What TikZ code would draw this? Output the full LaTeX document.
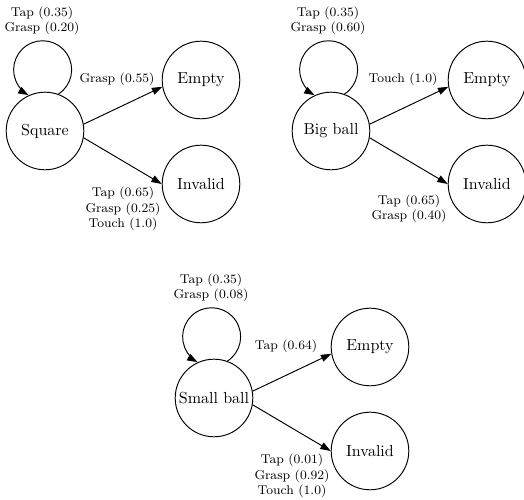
\documentclass[tikz,border=0pt]{standalone}
\usetikzlibrary{arrows.meta}

\begin{document}
\begin{tikzpicture}[x=0.625pt, y=0.625pt,
	state/.style={draw, circle, line width=0.6pt, minimum size=48.5pt, inner sep=0pt},
	lbl/.style={font=\footnotesize, align=center, inner sep=0pt},
	arr/.style={line width=0.6pt, -{Triangle[length=6.5pt, width=4.5pt]}}]
	\useasboundingbox (0,0) rectangle (524,500);
	\foreach \dx/\dy/\st/\lp/\el/\il [count=\i] in {
		0/0/Square/{Tap (0.35)\\Grasp (0.20)}/{Grasp (0.55)}/{Tap (0.65)\\Grasp (0.25)\\Touch (1.0)},
		286/0/Big ball/{Tap (0.35)\\Grasp (0.60)}/{Touch (1.0)}/{Tap (0.65)\\Grasp (0.40)},
		169/-267/Small ball/{Tap (0.35)\\Grasp (0.08)}/{Tap (0.64)}/{Tap (0.01)\\Grasp (0.92)\\Touch (1.0)}} {
		\node[state] (s\i) at (\dx+45, \dy+369) {\st};
		\node[state] (e\i) at (\dx+201, \dy+420) {Empty};
		\node[state] (v\i) at (\dx+201, \dy+316) {Invalid};

		\draw[arr] (s\i.70) arc[start angle=-57, end angle=241, radius=29];
		\draw[arr] (s\i.10) -- (e\i.190);
		\draw[arr] (s\i.-10) -- (v\i.180);

		\node[lbl] (lp\i) at (\dx+42, \dy+479) {\lp};
		\node[lbl] (le\i) at (\dx+117, \dy+421) {\el};
		\node[lbl] (li\i) at (\dx+123, \dy+291) {\il};
	}
\end{tikzpicture}
\end{document}
